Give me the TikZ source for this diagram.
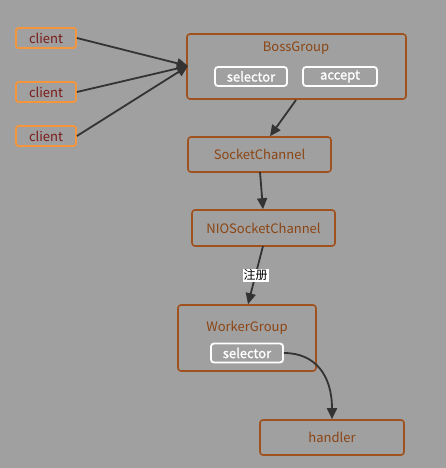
\documentclass[tikz,border=0pt]{standalone}
\usepackage{fontspec}
\setmainfont{Noto Sans CJK SC}
\newfontfamily\semib[FakeBold=1.2]{Noto Sans CJK SC}
\usetikzlibrary{arrows.meta}
\definecolor{bg}{HTML}{A0A0A0}
\definecolor{brn}{HTML}{A0521E}
\definecolor{brntxt}{HTML}{8B4513}
\definecolor{orng}{HTML}{F5963C}
\definecolor{ctxt}{HTML}{7A1A1A}
\definecolor{arr}{HTML}{333333}
\begin{document}
\begin{tikzpicture}[x=1pt,y=-1pt,
  font=\fontsize{13}{15}\selectfont,
  clientbox/.style={draw=orng,line width=1.8pt,rounded corners=2.5pt,minimum width=60pt,minimum height=20pt,inner sep=0pt,text=ctxt},
  grp/.style={draw=brn,line width=1.6pt,rounded corners=3pt,inner sep=0pt},
  plainbox/.style={draw=brn,line width=1.6pt,rounded corners=3pt,inner sep=0pt,text=brntxt},
  wbox/.style={draw=white,line width=1.8pt,rounded corners=3pt,inner sep=0pt,text=white,minimum height=19pt,font=\semib\fontsize{13}{15}\selectfont},
  lbl/.style={text=brntxt,inner sep=0pt},
  conn/.style={draw=arr,line width=1.8pt,-{Triangle[length=11pt,width=10pt]}}
]
\fill[bg] (0,0) rectangle (446,468);
\useasboundingbox (0,0) rectangle (446,468);

\node[clientbox] (c1) at (46,38) {client};
\node[clientbox] (c2) at (46,92) {client};
\node[clientbox] (c3) at (46,136) {client};

\node[grp,minimum width=219pt,minimum height=65pt] (boss) at (296.5,66.5) {};
\node[lbl] (bosst) at (296,48.5) {BossGroup};
\node[wbox,minimum width=72pt] (sel1) at (251,76.5) {selector};
\node[wbox,minimum width=74pt] (acc) at (340,76.5) {accept};

\node[plainbox,minimum width=143pt,minimum height=35pt] (sc) at (259.5,154.5) {SocketChannel};
\node[plainbox,minimum width=143pt,minimum height=36pt] (nio) at (263.5,228) {NIOSocketChannel};
\node[grp,minimum width=138pt,minimum height=66pt] (wg) at (247,338) {};
\node[lbl] (wgt) at (247,327.5) {WorkerGroup};
\node[wbox,minimum width=72pt] (sel2) at (247,353) {selector};
\node[plainbox,minimum width=144pt,minimum height=35pt] (hd) at (332,437.5) {handler};

\coordinate (tip) at (188,66);
\draw[conn] (c1.east) -- (tip);
\draw[conn] (c2.east) -- (tip);
\draw[conn] (c3.east) -- (tip);

\draw[conn] (296,100) -- (sc.north -| 270,0);
\draw[conn] (260,172) -- (nio.north -| 263,0);
\draw[conn] (263,246) -- node[pos=0.5,fill=white,inner sep=1pt,text=black,font=\fontsize{12}{13}\selectfont] (reg) {注册} (wg.north -| 248,0);
\draw[conn] (sel2.east) .. controls (315,353) and (332,375) .. (hd.north -| 332,0);
\end{tikzpicture}
\end{document}
